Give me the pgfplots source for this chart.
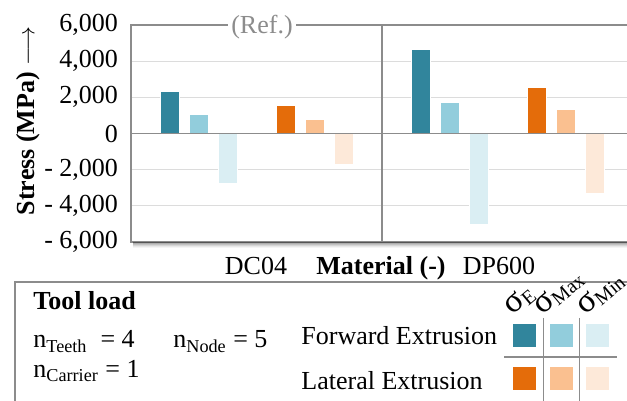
\documentclass[border=0pt]{standalone}
\usepackage{fontspec}
\setmainfont{Liberation Serif}
\usepackage{pgfplots}
\pgfplotsset{compat=1.18}

\definecolor{fwdE}{HTML}{31859C}
\definecolor{fwdMax}{HTML}{92CDDC}
\definecolor{fwdMin}{HTML}{DAEEF3}
\definecolor{latE}{HTML}{E46C0A}
\definecolor{latMax}{HTML}{FAC090}
\definecolor{latMin}{HTML}{FDE9D9}
\definecolor{frame}{HTML}{8C8C8C}
\definecolor{gridc}{HTML}{DCDCDC}

\newcommand\sig[1]{{\fontsize{17}{19}\selectfont σ}\raisebox{-0.25ex}{\fontsize{10}{12}\selectfont #1}}

\begin{document}
\fontsize{13}{15}\selectfont
\begin{tikzpicture}
\begin{axis}[
    at={(0,0)}, anchor=south west,
    scale only axis, width=251pt, height=108.5pt,
    xmin=0, xmax=502, ymin=-6000, ymax=6000,
    ybar, bar shift=0pt, bar width=19,
    xtick=\empty,
    ytick={-6000,-4000,...,6000},
    yticklabels={{- 6,000},{- 4,000},{- 2,000},0,{2,000},{4,000},{6,000}},
    yticklabel style={font=\fontsize{13}{15}\selectfont, xshift=-2pt},
    tick style={draw=none},
    ymajorgrids, grid style={gridc, line width=0.6pt},
    axis line style={frame, line width=0.7pt},
  ]
  % forward extrusion: DC04 / DP600
  \addplot[fill=fwdE, draw=white, line width=0.4pt] coordinates {(39,2300) (290,4650)};
  \addplot[fill=fwdMax, draw=white, line width=0.4pt] coordinates {(68,1050) (319,1720)};
  \addplot[fill=fwdMin, draw=white, line width=0.4pt] coordinates {(97,-2750) (348,-5000)};
  % lateral extrusion
  \addplot[fill=latE, draw=white, line width=0.4pt] coordinates {(155,1550) (406,2550)};
  \addplot[fill=latMax, draw=white, line width=0.4pt] coordinates {(184,800) (435,1350)};
  \addplot[fill=latMin, draw=white, line width=0.4pt] coordinates {(213,-1700) (464,-3300)};
  \draw[frame, line width=0.7pt] (0,0) -- (502,0);
  \draw[frame, line width=0.7pt] (251,-6000) -- (251,6000);
\end{axis}
\pgfresetboundingbox
\begin{scope}[x=0.5pt, y=-0.5pt, shift={(-131,-242)}]
  \useasboundingbox (0,0) rectangle (627,401);
  % shadow under the plot area
  \foreach \i/\o in {1/0.40,2/0.32,3/0.24,4/0.16,5/0.09,6/0.04}
    \draw[black, opacity=\o, line width=0.5pt] (133,{241.5+\i}) -- (660,{241.5+\i});
  \node[fill=white, text=frame, inner xsep=1.5pt, inner ysep=0pt] at (262,27) {(Ref.)};
  \node[rotate=90, font=\bfseries] at (28,121) {Stress (MPa) $\longrightarrow$};
  \node[anchor=base] at (256,275) {DC04};
  \node[anchor=base, font=\bfseries] at (381,275) {Material (-)};
  \node[anchor=base] at (499,275) {DP600};
  % legend box
  \draw[frame, line width=0.7pt] (15,282) rectangle (660,430);
  \node[anchor=base west, inner sep=0pt, font=\bfseries] at (33,310) {Tool load};
  \node[anchor=base west, inner sep=0pt] at (33,348) {n\textsubscript{Teeth}\ \ = 4};
  \node[anchor=base west, inner sep=0pt] at (173,348) {n\textsubscript{Node} = 5};
  \node[anchor=base west, inner sep=0pt] at (33,378) {n\textsubscript{Carrier} = 1};
  \node[anchor=base west, inner sep=0pt] at (301,345) {Forward Extrusion};
  \node[anchor=base west, inner sep=0pt] at (301,390) {Lateral Extrusion};
  \draw[frame, line width=0.9pt] (543.5,318) -- (543.5,410);
  \draw[frame, line width=0.9pt] (579.5,318) -- (579.5,410);
  \draw[frame, line width=0.9pt] (504,357) -- (617,357);
  \fill[fwdE] (513,324) rectangle (536,347);
  \fill[fwdMax] (550,324) rectangle (573,347);
  \fill[fwdMin] (586,324) rectangle (609,347);
  \fill[latE] (513,367) rectangle (536,390);
  \fill[latMax] (550,367) rectangle (573,390);
  \fill[latMin] (586,367) rectangle (609,390);
  \node[rotate=40, anchor=base west, inner sep=0pt] at (512,316) {\sig{E}};
  \node[rotate=40, anchor=base west, inner sep=0pt] at (542,316) {\sig{Max}};
  \node[rotate=40, anchor=base west, inner sep=0pt] at (585,316) {\sig{Min}};
\end{scope}
\end{tikzpicture}
\end{document}
